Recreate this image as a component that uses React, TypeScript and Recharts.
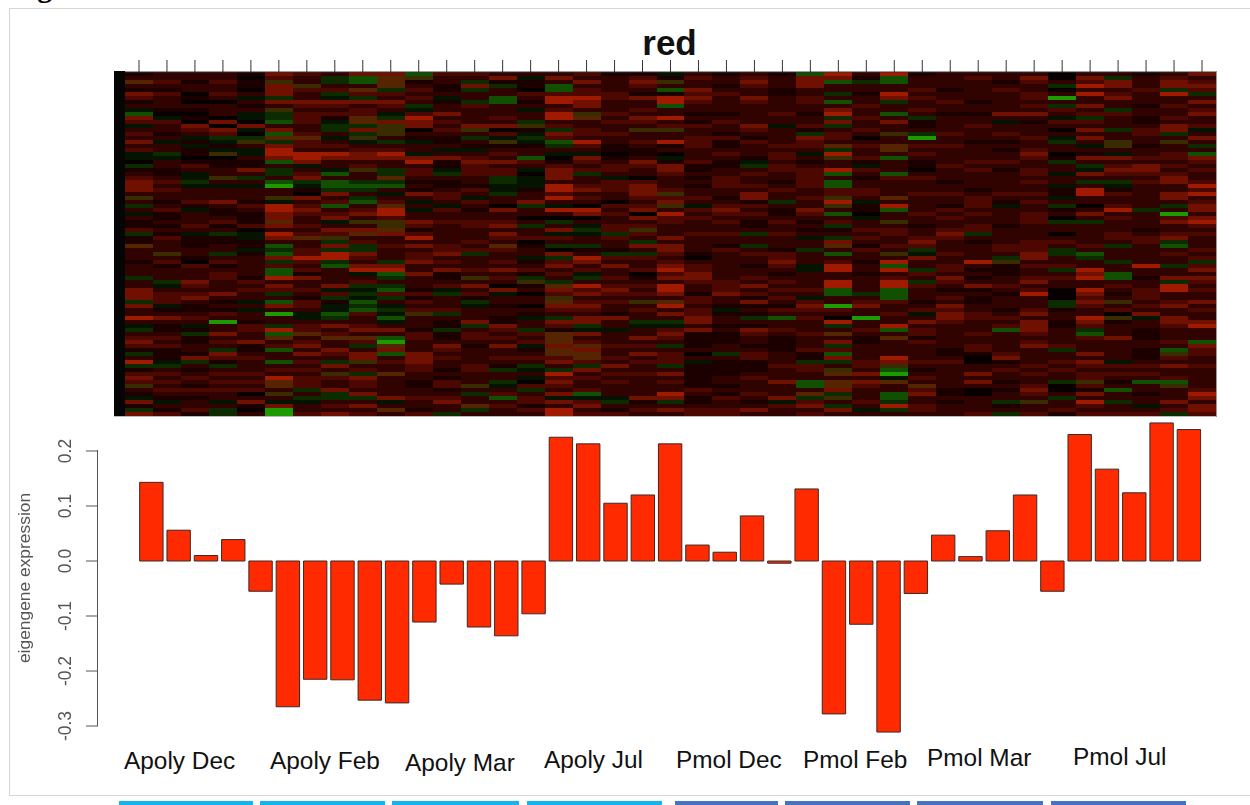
import { Bar, BarChart, Cell, XAxis, YAxis } from 'recharts';

const samples = Array.from('ABCDEFGHIJKLMNOPQRSTUVWXYZabcdefghijklm');

const eigengene = [
  0.143, 0.056, 0.01, 0.039, -0.055,
  -0.265, -0.215, -0.216, -0.253, -0.258,
  -0.111, -0.042, -0.12, -0.136, -0.096,
  0.225, 0.213, 0.105, 0.12, 0.213,
  0.029, 0.016, 0.082, -0.004, 0.131,
  -0.278, -0.115, -0.311, -0.059,
  0.047, 0.008, 0.055, 0.12, -0.055,
  0.23, 0.167, 0.124, 0.251, 0.239,
];

const yTicks = [0.2, 0.1, 0, -0.1, -0.2, -0.3];

const groupLabels = ['Apoly Dec', 'Apoly Feb', 'Apoly Mar', 'Apoly Jul', 'Pmol Dec', 'Pmol Feb', 'Pmol Mar', 'Pmol Jul'];
const groupLabelX = [124, 270, 405, 544, 676, 803, 927, 1073];
const groupLabelY = [761, 761, 763, 760, 760, 760, 758, 757];

const stripX = [119, 260, 392, 527, 675, 785, 917, 1051];
const stripW = [134, 125, 127, 135, 103, 125, 126, 135];
const stripColor = ['#14b4f2', '#14b4f2', '#14b4f2', '#14b4f2', '#4472c4', '#4472c4', '#4472c4', '#4472c4'];

// one string per sample, one letter per gene band, top to bottom
const heatColumns = [
  'abpbadcabk hdckbcbdbc kk.gabcddd bobgbkbaac gaapbbbabb bgbbdddgdb bebkgbcdca gbegacdcob akdagd',
  'bbcbacbbba .kcbbabkbb gkbbaabcbc bbabcaabab acbbbobcab bbgkbcccka bdbaabcbca aakgbcbcbc bakbac',
  'bbabb.a.ba .a.dcbkaka a.acbkkgkb bbcakbbbcb kaaabba.cb bbdcbcdbaa bcbkagaabb adgbabcbac babbca',
  'bbcbbcb.bb b.d.dcgkak o.aabbobkb bbdbaabcab gaabbgbcab ccbbbdbaba cbibbdbcbg dcagbcbcbc bbkbgg',
  'a.aa.bkbab kk.dk.gobk kbaadbgbkb bbacbaaac. kkaakabbbb bacbcbbkbk bbaccbbdaa bcbbbcbcbc .bda.b',
  'dcodddgdbo gghbdhpgde edhbggbhib bokeeddpdb edbhghdgch hebdcgbhdb ibbgehpbch bbhbcbeppb obkdii',
  'cbbocbbdcb cccbbcpccb eedkbcdgka .dbcdcbbcb cpbbccecbc adbbcbaccb kkbccpbcdb dbcbcbcccg bgkbbc',
  'bggbcgkdcb cakggbkbcb edbbkhbhhg dbchbcdkbd cogdgeeghb bbbdkcgakk hgbdbcpbbd cbgdbocbbd ggbcbd',
  'dhhbpcgdbc cppgdgokbc ddbcobbghg bghbcdbobd pbcggdcbde kbcgkgkhgh cbbcdbpcgb ddobcgdccb dgbdbc',
  'dpppgcbdcb kgdooobgbc edbbggpghb kbcpeecoop dbbcbbbgde hgbghcgbkg khkbdbhipd hbcbbpbbbb bdkbpb',
  'hoabcbcbgk cedd.bakbb kdebccbaba dbkbkbbdca cebdbccdbb dbbbacacbc obbbaccbbb dddccbbaab bcbbac',
  'cbbaabkabb dbcbcbaabk bdaakgbaab ccbkcbbcbb bbbccdbcbd aabckgbbbc gbaagaabdc bcbbabacca bcdbbg',
  'cbgdgbbgcb bbbdobgbak bcdcccbbac bkcbabbccb bbcbcgbbbc bobdbcagkb bbdgbccbab bbbccbbbob gbbpgb',
  'bdagbbhhbb bcbd.ckoab cbdbccggkk gbb.dbbcdb dcbpcbbcbd bcb.dkbbab baadcbcbdb bcbagbbgkb chbcbb',
  'bkaa.cbabk bbgoakgkab bhcbk.kkka bbdgbb.bgb bc.abbkabc agoab.bb.b akbbgcbcka bcbgkbk.cg bccacb',
  'bdbhhceebc eebcgdchgb k.acdddbee cebkeb.gbd kcbg.dgcdb cbgpdcopdc bgdcapppdp pcdbgecdcb dkdbee',
  'cbdbcceddb opbbccbecb kdcbcgbbcd bcb.ed.bkg kbbgabedbc kgbecdbcdc bddgkdbcpd ppcgdbcbbc hkcdbc',
  'abbbbccbbb cbcbbcbbaa .abccbkccc bb.cbcbbcc gcbbagcbdb bcbcdcbcbb adbbkbbbcb bcbdbcbcbb bkgbac',
  'acdcbadbbc bdcbobbcba abdcbb.cdd dcbcd.dbco cbgdbgcbbc .abcbcbobc bbgkbbdbcb dbcbbcbbbb bdabcb',
  'kaobhaeehb bebcobbeab .kaddcbbbc ocdobeccbb bdbddcbcde cdbeedbpeb dbgkcdcbgb cccgbdbcbb edgbdb',
  'bcbbdcdcbb abacbbcccb bbcaababab bcbkcbcbbb cbbbba.bcc ddcbbaccbc cddbdaaaab .bkaaaaaac baabcc',
  'abbabcbbbb abcbbacaab cbaabbcccb babcdcbcbb cbbacbbbbb bbcccdbbak abbabaaabb gbaaaabbab acbbcc',
  'bcdcbbdcbb bbbdcbacbb bakgbcbbcb ddacbcbaab gbbgbcbbab bcbdbcadab agbadcbbab ccaaabcbbb cbabdb',
  'abbbaabbbb cbbkbbbbcb ccbccbbabc bbgbaabcbb cbbbaccdcb abcbcbcbac bhbbcbaaaa bbbcbbbdbb bdkcbb',
  'hdddbbccbb abbcagdccb kbabcccccb bcbbdcbaba bkbbgbbbkk bbbbcbkcdc bcbbbcbbbc aagccbbhhb pgcdbc',
  'edhbbgbhbd egdgbccbpg eobbehbhhc coeobhbcga bgdpbhbcee bbeehhbbic b.egbpbdgc hdgbopbppd gobgdb',
  'bagbbabbcb bcbbcb.bcb bcakcbabbc cbkaa.kbbc bcbacbbabb abbbbgbcdb bibbcbaabb bbccbdbdcb bbcbkb',
  'ehhbbedgbb hbdbbobbpp bhbbbhcbbb bpbehbbobc cbbcbobehe bceehhhcbb cbbehbpbbb bedohikpbb hhgegb',
  'abbbcbcbbc bgaabgibcb cbaa.bcbbb cbbbbcbbab bcdcgkdbbg cbgcbbbabc kbdbccacbb bbcbabcbpc dbbccb',
  'bbbbabbcbb abbbbcbbcb bbbcbbbabb cbbacbcbbc dcbbbcbbcc bdcbabcbdc ddcbbbbbba abcbbbbbba ababbb',
  'bcbbbbbabb abbcbbbabb bbcbcbbbba bcccbcbbcc gbabbbbeba babdabaabb ccbbbcbbcc a..bbdbdb. .bbbbc',
  'bbabcbbbbb dbkbbcbaba bbcbabbbbb cbakbbbbab bbbccbgoaa abbcbabbba bcbchbbbbb cdabcbbaba bbgabg',
  'bdcbbccbcb dbabbbcbbc dcbbccbcbb cbcbbcccbb bbcccddbcb bcdbcebbbc dbdddcbcdb bbbcbcbbcd cbobbc',
  '..bg.bibgc bkcb.bkgbb .agbbkbbka akbgab.gbb .bcbggbbcg bcbb...gga bbaabbbbcg bbcbcbbg.. bgbbca',
  'bdcebebbdb cgcbdbdbkb adbgkdbgbe ebb.bdbgbb bbbcbhgbbe debbedcdcb bedcghcbbb dbdcbccoca dbecbc',
  'bgddbcdbbg cbbbgbboob kdbcdcbgka cbbcebcbbb ccbgbbbgbb hhbcbabobc .oabbbdbbb bbkcbcbabh bbgbbc',
  'abbbcbbbab baabccbbab bcbddcbcbb bbbbgbbbba bccbbbbbeb babbcccbcb dkbbaaabba aabcbcbhbb abbkbc',
  'bcddgebbcb bcbddgbobb ccbcbcddbb ddbgbicdbb cdghbcbbgb bdgeebbcdb bddcbbbcbh ocbdbbchob bbdbcg',
  'dbcdcgbdbc dbbckbdbgb hdcbcbbcec ebcddbdecb cbbbcbcgcd bdcbcbbdbc bbdebbbhdc cbbcbbbbbc edbddc',
].map((s) => s.replace(/ /g, ''));

const heatPalette: Record<string, string> = {
  '.': '#080000',
  a: '#1c0000',
  b: '#300200',
  c: '#4c0700',
  d: '#701000',
  e: '#a01a00',
  k: '#051400',
  g: '#0c2c00',
  h: '#115000',
  i: '#1c9a00',
  o: '#382c00',
  p: '#542500',
};

const rowCount = 86;
const rowKeys = Array.from({ length: rowCount }, (_, r) => `r${r}`);

const heatData = samples.map((sample) => {
  const row: Record<string, string | number> = { sample };
  rowKeys.forEach((k) => {
    row[k] = 1;
  });
  return row;
});
const barData = samples.map((sample, i) => ({ sample, value: eigengene[i] }));

const sans = '"Liberation Sans", Arial, sans-serif';
const axisGrey = '#555';

function YTick({ x, y, payload }: any) {
  const tx = x - 13;
  return (
    <text
      x={tx}
      y={y}
      transform={`rotate(-90 ${tx} ${y})`}
      textAnchor="middle"
      fontSize={17.5}
      fontFamily={sans}
      fill={axisGrey}
    >
      {payload.value.toFixed(1)}
    </text>
  );
}

function YLabel({ viewBox }: any) {
  const cx = 30;
  const cy = viewBox.y + viewBox.height / 2 - 3;
  return (
    <text
      x={cx}
      y={cy}
      transform={`rotate(-90 ${cx} ${cy})`}
      textAnchor="middle"
      fontSize={17.4}
      fontFamily={sans}
      fill={axisGrey}
    >
      eigengene expression
    </text>
  );
}

function heatCell(r: number) {
  return function HeatCell({ x, y, width, height, index }: any) {
    const code = heatColumns[index]?.[r] ?? '.';
    return (
      <rect
        x={x}
        y={Math.min(y, y + height)}
        width={width}
        height={Math.abs(height)}
        fill={heatPalette[code]}
        shapeRendering="crispEdges"
      />
    );
  };
}

export default function App() {
  return (
    <div style={{ position: 'absolute', left: 0, top: 0, width: 1250, height: 805, overflow: 'hidden', background: '#fff' }}>
      <div
        style={{
          position: 'absolute',
          left: 10.5,
          top: -28,
          fontFamily: '"Liberation Serif", serif',
          fontWeight: 700,
          fontSize: 30,
          lineHeight: '30px',
          whiteSpace: 'nowrap',
          color: '#000',
        }}
      >
        Figure 5
      </div>
      {/* figure frame, open on the right */}
      <div
        style={{
          position: 'absolute',
          left: 9,
          top: 8,
          width: 1260,
          height: 786,
          border: '1px solid #d6d6d6',
        }}
      />
      <div
        style={{
          position: 'absolute',
          left: 569.5,
          top: 25,
          width: 200,
          textAlign: 'center',
          fontFamily: sans,
          fontWeight: 700,
          fontSize: 35,
          lineHeight: '36px',
          color: '#111',
        }}
      >
        red
      </div>

      <div style={{ position: 'absolute', left: 0, top: 0, filter: 'blur(0.5px)' }}>
        <div style={{ position: 'absolute', left: 114, top: 71, width: 11, height: 345, background: '#050505' }} />
        <BarChart
          width={1250}
          height={416}
          data={heatData}
          margin={{ top: 59, right: 34, bottom: 0, left: 125 }}
          barCategoryGap={0}
          barGap={0}
        >
          <XAxis
            dataKey="sample"
            orientation="top"
            height={13}
            interval={0}
            tickSize={12}
            tickFormatter={() => ''}
            stroke="#333"
            tickLine={{ stroke: '#333' }}
          />
          <YAxis hide reversed type="number" domain={[0, rowCount]} />
          {rowKeys.map((k, r) => (
            <Bar key={k} dataKey={k} stackId="heat" isAnimationActive={false} shape={heatCell(r)} />
          ))}
        </BarChart>
        <div style={{ position: 'absolute', left: 114, top: 416, width: 1103, height: 1, background: '#bbb' }} />
        <div style={{ position: 'absolute', left: 1216, top: 71, width: 1, height: 346, background: '#999' }} />
      </div>

      <div style={{ position: 'absolute', left: 0, top: 0, filter: 'blur(0.4px)' }}>
        <BarChart
          width={1250}
          height={805}
          data={barData}
          margin={{ top: 417, right: 34, bottom: 60, left: 0 }}
        >
          <XAxis dataKey="sample" hide padding={{ left: 39.65, right: 13.5 }} />
          <YAxis
            type="number"
            width={98}
            domain={[-0.3345, 0.2618]}
            ticks={yTicks}
            interval={0}
            axisLine={false}
            tickSize={12}
            tickLine={{ stroke: axisGrey }}
            tick={<YTick />}
            label={<YLabel />}
          />
          <Bar dataKey="value" barSize={23.4} stroke="#3a2a26" strokeWidth={1} isAnimationActive={false}>
            {barData.map((d) => (
              <Cell key={d.sample} fill="#ff2a00" />
            ))}
          </Bar>
        </BarChart>
        <div style={{ position: 'absolute', left: 97, top: 450, width: 1, height: 276, background: axisGrey }} />
      </div>

      {groupLabels.map((label, i) => (
        <div
          key={label}
          style={{
            position: 'absolute',
            left: groupLabelX[i],
            top: groupLabelY[i] - 15,
            fontFamily: sans,
            fontSize: 24.4,
            lineHeight: '30px',
            whiteSpace: 'nowrap',
            color: '#111',
          }}
        >
          {label}
        </div>
      ))}

      {stripX.map((x, i) => (
        <div
          key={x}
          style={{ position: 'absolute', left: x, top: 801, width: stripW[i], height: 4, background: stripColor[i] }}
        />
      ))}
    </div>
  );
}
